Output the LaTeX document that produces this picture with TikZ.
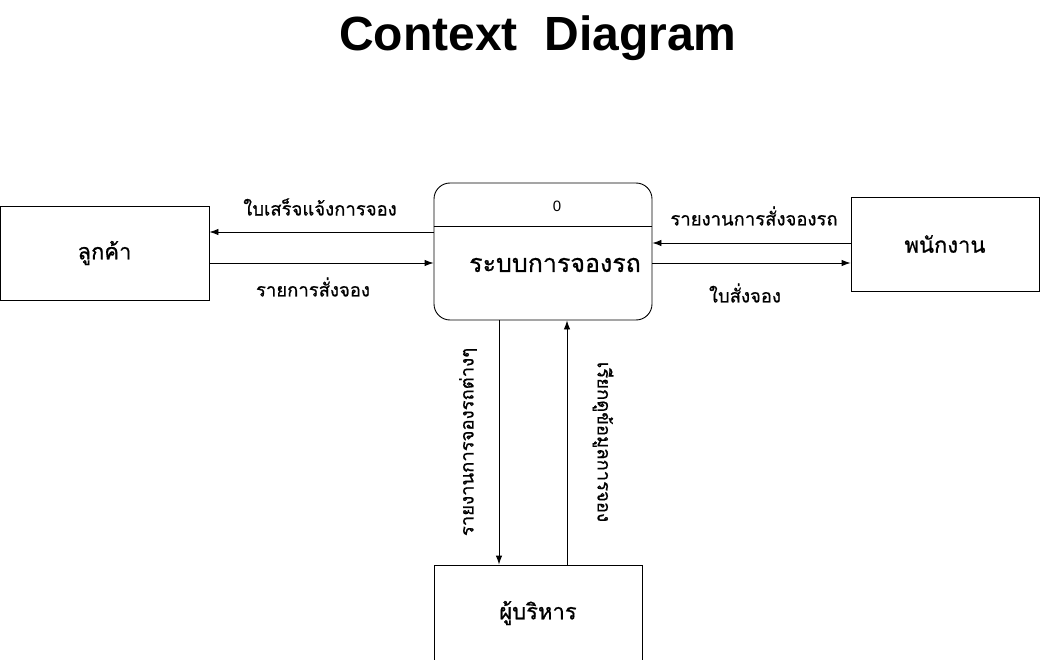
\documentclass[tikz,border=0pt]{standalone}
\usepackage{fontspec}
\setmainfont{Liberation Sans}
\newfontfamily\thaifont[Script=Thai,FakeBold=0.7]{Loma}
\usetikzlibrary{arrows.meta}
\begin{document}
\begin{tikzpicture}[x=1pt,y=-1pt,
  entity/.style={draw,line width=0.9pt,inner sep=0pt,font=\thaifont\fontsize{22}{26}\selectfont},
  flow/.style={line width=0.9pt,-{Latex[length=9pt,width=6.5pt]}},
  lbl/.style={font=\thaifont\fontsize{18.5}{22}\selectfont,inner sep=0pt}]
\useasboundingbox (0,0) rectangle (1040,660);
\node[font=\bfseries\fontsize{48}{54}\selectfont,anchor=base] (title) at (538,51) {Context\ \ Diagram};
% entities
\node[entity,minimum width=209pt,minimum height=94pt] (cust) at (104.5,253) {ลูกค้า};
\node[entity,minimum width=188pt,minimum height=94pt] (staff) at (945,244) {พนักงาน};
\node[entity,minimum width=208pt,minimum height=96pt] (exec) at (538,613) {ผู้บริหาร};
% process
\node[draw,line width=0.9pt,rounded corners=16pt,minimum width=218pt,minimum height=137pt,inner sep=0pt] (proc) at (543,251.5) {};
\draw[line width=0.9pt] (proc.west |- 0,226) coordinate (dl) -- (proc.east |- 0,226) coordinate (dr);
\node[font=\fontsize{15}{17}\selectfont] (pid) at (557,206) {0};
\node[font=\thaifont\fontsize{25}{28}\selectfont] (pname) at (555,265) {ระบบการจองรถ};
% flows
\draw[flow] (proc.west |- 0,232) -- (cust.east |- 0,232);
\draw[flow] (cust.east |- 0,263) -- (proc.west |- 0,263);
\draw[flow] (staff.west |- 0,243) -- (proc.east |- 0,243);
\draw[flow] (proc.east |- 0,263) -- (staff.west |- 0,263);
\draw[flow] (proc.south -| 499,0) -- (exec.north -| 499,0);
\draw[flow] (exec.north -| 567,0) -- (proc.south -| 567,0);
% labels
\node[lbl] (l1) at (320,207) {ใบเสร็จแจ้งการจอง};
\node[lbl] (l2) at (313,287) {รายการสั่งจอง};
\node[lbl] (l3) at (754,216) {รายงานการสั่งจองรถ};
\node[lbl] (l4) at (745,293) {ใบสั่งจอง};
\node[lbl,rotate=90] (l5) at (468,442) {รายงานการจองรถต่างๆ};
\node[lbl,rotate=-90] (l6) at (603,442) {เรียกดูข้อมูลการจอง};
\end{tikzpicture}
\end{document}
